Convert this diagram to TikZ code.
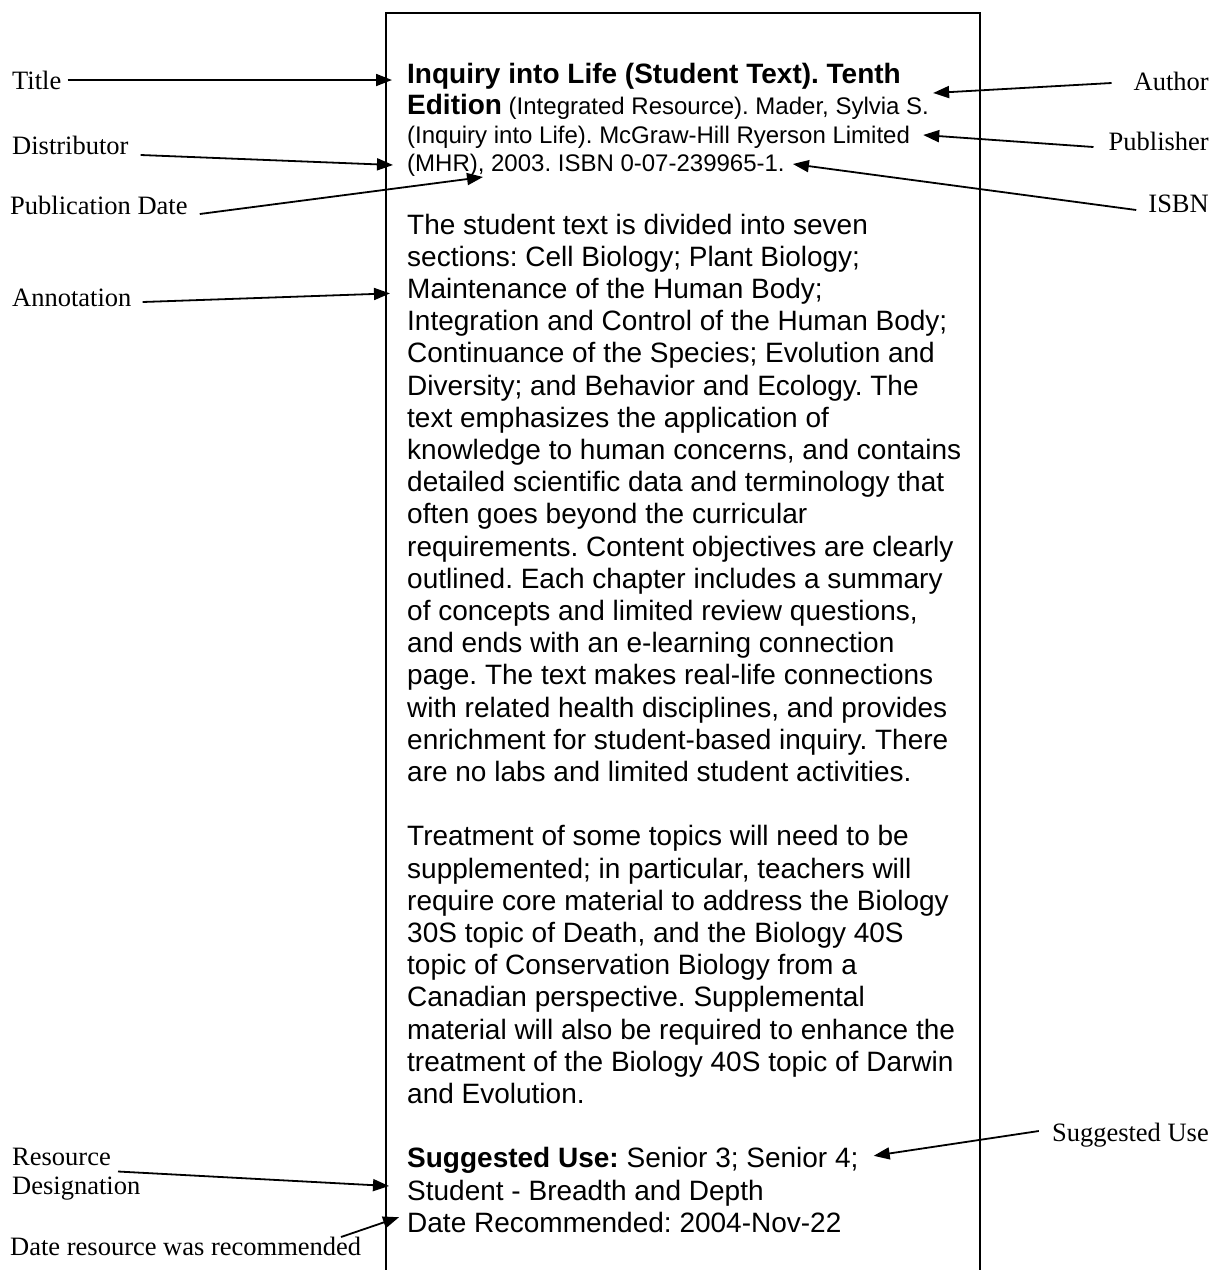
\documentclass[tikz,border=0pt]{standalone}
\usepackage{fontspec}
\setmainfont{Liberation Serif}
\newfontfamily\arialfont{Liberation Sans}
\usetikzlibrary{arrows.meta}
\frenchspacing

\begin{document}
\begin{tikzpicture}[x=1pt,y=-1pt,
            side node/.style={font=\fontsize{26.5}{28.5}\selectfont,inner sep=0pt},
            head line/.style={font=\arialfont\fontsize{24}{27.6}\selectfont,inner sep=0pt,anchor=base west},
            text line/.style={font=\arialfont\fontsize{28}{32.2}\selectfont,inner sep=0pt,anchor=base west},
            pointer/.style={-{Triangle[length=16pt,width=12pt]},line width=1.8pt}]

        \useasboundingbox (0,0) rectangle (1213,1270);

        % Record frame
        \draw[line width=1.8pt] (386,1275) -- (386,13) -- (980,13) -- (980,1275);

        % Citation
        \node[head line,font=\arialfont\bfseries\fontsize{28}{32}\selectfont] (h0) at (407,83)
            {Inquiry into Life (Student Text). Tenth};
        \node[head line] (h1) at (407,114)
            {{\fontsize{28}{32}\selectfont\bfseries Edition} (Integrated Resource). Mader, Sylvia S.};
        \node[head line] (h2) at (407,143) {(Inquiry into Life). McGraw-Hill Ryerson Limited};
        \node[head line] (h3) at (407,171) {(MHR), 2003. ISBN 0-07-239965-1.};

        % Annotation
        \foreach \txt [count=\i from 0] in {
            {The student text is divided into seven},
            {sections: Cell Biology; Plant Biology;},
            {Maintenance of the Human Body;},
            {Integration and Control of the Human Body;},
            {Continuance of the Species; Evolution and},
            {Diversity; and Behavior and Ecology. The},
            {text emphasizes the application of},
            {knowledge to human concerns, and contains},
            {detailed scientific data and terminology that},
            {often goes beyond the curricular},
            {requirements. Content objectives are clearly},
            {outlined. Each chapter includes a summary},
            {of concepts and limited review questions,},
            {and ends with an e-learning connection},
            {page. The text makes real-life connections},
            {with related health disciplines, and provides},
            {enrichment for student-based inquiry. There},
            {are no labs and limited student activities.}}
            \node[text line] (b\i) at (407,{234+32.2*\i}) {\txt};

        \foreach \txt [count=\i from 19] in {
            {Treatment of some topics will need to be},
            {supplemented; in particular, teachers will},
            {require core material to address the Biology},
            {30S topic of Death, and the Biology 40S},
            {topic of Conservation Biology from a},
            {Canadian perspective. Supplemental},
            {material will also be required to enhance the},
            {treatment of the Biology 40S topic of Darwin},
            {and Evolution.}}
            \node[text line] (b\i) at (407,{234+32.2*\i}) {\txt};

        \foreach \txt [count=\i from 29] in {
            {\textbf{Suggested Use:} Senior 3; Senior 4;},
            {Student - Breadth and Depth},
            {Date Recommended: 2004-Nov-22}}
            \node[text line] (b\i) at (407,{234+32.2*\i}) {\txt};

        % Field names
        \node[side node,anchor=base west] (title) at (12,89) {Title};
        \node[side node,anchor=base west] (distributor) at (12,154) {Distributor};
        \node[side node,anchor=base west] (pubdate) at (10,214) {Publication Date};
        \node[side node,anchor=base west] (annotation) at (12,306) {Annotation};
        \node[side node,anchor=north west,align=left] (resdes) at (12,1148) {Resource\\Designation};
        \node[side node,anchor=base west] (daterec) at (10,1255) {Date resource was recommended};
        \node[side node,anchor=base east] (author) at (1209,90) {Author};
        \node[side node,anchor=base east] (publisher) at (1209,150) {Publisher};
        \node[side node,anchor=base east] (isbn) at (1209,212) {ISBN};
        \node[side node,anchor=base east] (suggested) at (1209,1141) {Suggested Use};

        % Pointers
        \draw[pointer] ([shift={(6,-9)}]title.base east) -- ([shift={(-15,-3)}]h0.base west);
        \draw[pointer] ([shift={(12,1)}]distributor.base east) -- ([shift={(-14,-6)}]h3.base west);
        \draw[pointer] ([shift={(12,0)}]pubdate.base east) -- ([shift={(76,6)}]h3.base west);
        \draw[pointer] ([shift={(11,-4)}]annotation.base east) -- ([shift={(-17,-5)}]b2.base west);
        \draw[pointer] ([shift={(-22,-7)}]author.base west) -- ([shift={(4,-21)}]h1.base east);
        \draw[pointer] ([shift={(-15,-3)}]publisher.base west) -- ([shift={(13,-8)}]h2.base east);
        \draw[pointer] ([shift={(-12,-2)}]isbn.base west) -- ([shift={(8,-7)}]h3.base east);
        \draw[pointer] ([shift={(-13,-10)}]suggested.base west) -- ([shift={(15,-12)}]b29.base east);
        \draw[pointer] ([shift={(106,23.5)}]resdes.north west) -- ([shift={(-18,-14)}]b30.base west);
        \draw[pointer] ([shift={(331,-18)}]daterec.base west) -- ([shift={(-8,-15)}]b31.base west);

        \end{tikzpicture}
\end{document}
